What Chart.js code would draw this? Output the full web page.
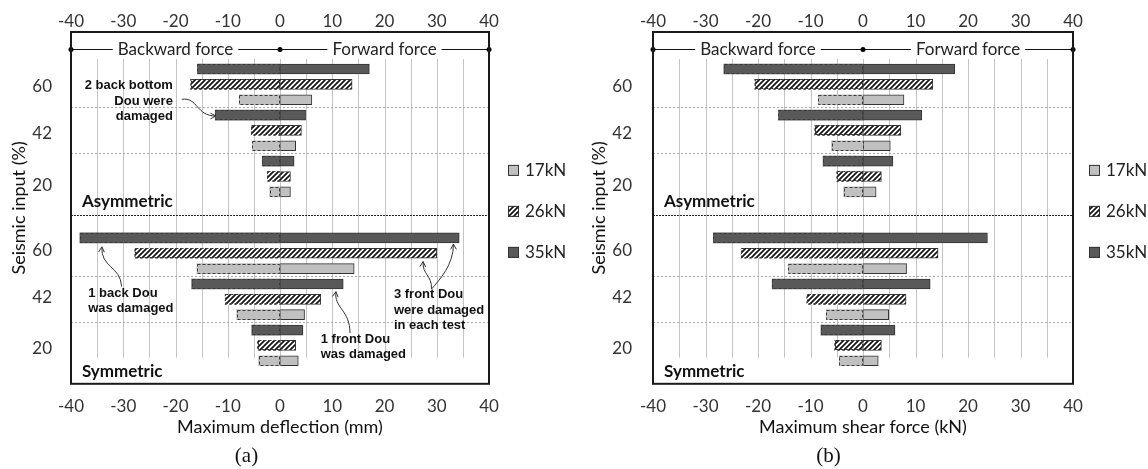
<!DOCTYPE html>
<html lang="en">
<head>
<meta charset="UTF-8">
<title>Maximum deflection and shear force</title>
<script src="https://cdn.jsdelivr.net/npm/chart.js@4"></script>
<style>
  html, body { margin: 0; padding: 0; background: #fff; }
  .row { display: flex; width: 1148px; height: 469px; }
  .panel { position: relative; width: 574px; height: 469px; }
</style>
</head>
<body>
<div class="row">
  <div class="panel"><canvas id="plotA"></canvas></div>
  <div class="panel"><canvas id="plotB"></canvas></div>
</div>
<script>
// series (weight) and seismic input levels: asymmetric 60/42/20 then symmetric 60/42/20
const series = ['17kN', '26kN', '35kN'];
const inputs = ['60', '42', '20', '60', '42', '20'];
const configs = ['Asymmetric', 'Symmetric'];
const inputRows = [1.15, 4.2, 7.6, 11.8, 14.9, 18.2];

// (a) maximum deflection (mm)
const defl17Fwd = [6.1, 3.0, 2.0, 14.2, 4.7, 3.5];
const defl17Bwd = [-7.8, -5.3, -2.0, -15.9, -8.3, -4.1];
const defl26Fwd = [13.8, 4.1, 2.0, 30.0, 7.8, 3.0];
const defl26Bwd = [-17.1, -5.5, -2.4, -27.8, -10.5, -4.3];
const defl35Fwd = [17.1, 4.9, 2.7, 34.3, 12.1, 4.4];
const defl35Bwd = [-15.8, -12.4, -3.4, -38.3, -16.9, -5.4];

// (b) maximum shear force (kN)
const shear17Fwd = [7.8, 5.2, 2.5, 8.3, 4.9, 2.9];
const shear17Bwd = [-8.5, -6.0, -3.7, -14.2, -7.0, -4.5];
const shear26Fwd = [13.3, 7.2, 3.5, 14.3, 8.2, 3.5];
const shear26Bwd = [-20.6, -9.2, -5.0, -23.2, -10.7, -5.4];
const shear35Fwd = [17.5, 11.2, 5.7, 23.7, 12.8, 6.1];
const shear35Bwd = [-26.5, -16.1, -7.6, -28.5, -17.3, -8.0];

// notes on panel (a), in axis units (x value, bar row)
const notesA = [
  { lines: ['2 back bottom', 'Dou were', 'damaged'], x: -20.5, row: 1.1, align: 'right' },
  { lines: ['1 back Dou', 'was damaged'], x: -36.7, row: 14.6, align: 'left' },
  { lines: ['1 front Dou', 'was damaged'], x: 7.8, row: 17.6, align: 'left' },
  { lines: ['3 front Dou', 'were damaged', 'in each test'], x: 21.8, row: 14.7, align: 'left' },
];
const arrowsA = [
  [[-18.8, 1.97], [-15.7, 1.82], [-16.1, 3.06], [-12.3, 3.06]],
  [[-30.3, 14.16], [-30.6, 12.8], [-34.3, 12.95], [-34.1, 11.58]],
  [[13.4, 17.2], [13.4, 15.68], [10.3, 15.57], [10.7, 14.5]],
  [[29.0, 14.33], [29.1, 13.4], [27.2, 13.4], [27.4, 12.54]],
  [[29.0, 14.33], [30.6, 13.7], [33.2, 12.75], [33.2, 11.4]],
];

const font = 'Lato, "Open Sans", sans-serif';
const grey = '#333';

function rowOf(g, s) {
  return g * 3 + (2 - s) + (g >= 3 ? 2 : 0);
}

function hatch(ctx) {
  const c = document.createElement('canvas');
  c.width = 5;
  c.height = 5;
  const g = c.getContext('2d');
  g.fillStyle = '#fff';
  g.fillRect(0, 0, 5, 5);
  g.strokeStyle = '#111';
  g.lineWidth = 1.7;
  g.beginPath();
  g.moveTo(-1, 6); g.lineTo(6, -1);
  g.moveTo(-1, 1); g.lineTo(1, -1);
  g.moveTo(4, 6); g.lineTo(6, 4);
  g.stroke();
  return ctx.createPattern(c, 'repeat');
}

const decor = {
  id: 'decor',
  beforeDatasetsDraw(chart, args, opts) {
    const { ctx, chartArea: a } = chart;
    const xs = chart.scales.x, ys = chart.scales.y;
    ctx.save();
    // vertical grid
    ctx.strokeStyle = '#c4c4c4';
    ctx.lineWidth = 1;
    for (let v = -35; v <= 35; v += 5) {
      const px = Math.round(xs.getPixelForValue(v)) + 0.5;
      ctx.beginPath();
      ctx.moveTo(px, ys.getPixelForValue(-0.65));
      ctx.lineTo(px, ys.getPixelForValue(18.8));
      ctx.stroke();
    }
    // group separators
    [2.5, 5.5, 13.5, 16.5, 9.5].forEach(r => {
      const py = Math.round(ys.getPixelForValue(r)) + 0.5;
      ctx.strokeStyle = r === 9.5 ? '#222' : '#a8a8a8';
      ctx.setLineDash(r === 9.5 ? [2, 1] : [2, 2]);
      ctx.beginPath();
      ctx.moveTo(a.left, py);
      ctx.lineTo(a.right, py);
      ctx.stroke();
    });
    ctx.setLineDash([]);
    // backward / forward force row
    const fy = Math.round(ys.getPixelForValue(-1.3)) + 0.5;
    ctx.strokeStyle = '#111';
    ctx.beginPath();
    ctx.moveTo(xs.getPixelForValue(-40), fy);
    ctx.lineTo(xs.getPixelForValue(40), fy);
    ctx.stroke();
    ctx.font = '17px ' + font;
    ctx.textAlign = 'center';
    ctx.textBaseline = 'middle';
    [['Backward force', -20], ['Forward force', 20]].forEach(([t, v]) => {
      const w = ctx.measureText(t).width + 10;
      const cx = xs.getPixelForValue(v);
      ctx.fillStyle = '#fff';
      ctx.fillRect(cx - w / 2, fy - 9, w, 18);
      ctx.fillStyle = '#222';
      ctx.fillText(t, cx, fy);
    });
    ctx.fillStyle = '#000';
    [-40, 0, 40].forEach(v => {
      ctx.beginPath();
      ctx.arc(xs.getPixelForValue(v), fy, 2.5, 0, Math.PI * 2);
      ctx.fill();
    });
    // configuration labels
    ctx.font = 'bold 17px ' + font;
    ctx.textAlign = 'left';
    ctx.fillStyle = '#111';
    ctx.fillText(configs[0], xs.getPixelForValue(-37.9), ys.getPixelForValue(8.65));
    ctx.fillText(configs[1], xs.getPixelForValue(-37.9), ys.getPixelForValue(19.7));
    ctx.restore();
  },
  afterDatasetsDraw(chart, args, opts) {
    const { ctx, chartArea: a } = chart;
    const xs = chart.scales.x, ys = chart.scales.y;
    ctx.save();
    // dashed outline on backward bars
    ctx.strokeStyle = '#3a3a3a';
    ctx.lineWidth = 1;
    ctx.setLineDash([3, 2]);
    chart.data.datasets.forEach((ds, i) => {
      if (!ds.dashed) return;
      chart.getDatasetMeta(i).data.forEach(bar => {
        const { x, y, base, height } = bar.getProps(['x', 'y', 'base', 'height'], true);
        const l = Math.min(x, base), r = Math.max(x, base);
        ctx.strokeRect(Math.round(l) + 0.5, Math.round(y - height / 2) + 0.5, Math.round(r - l) - 1, height - 1);
      });
    });
    ctx.setLineDash([]);
    // frame
    ctx.strokeStyle = '#1a1a1a';
    ctx.lineWidth = 2;
    ctx.strokeRect(a.left, a.top, a.right - a.left, a.bottom - a.top);
    // notes and arrows
    ctx.fillStyle = '#111';
    ctx.font = 'bold 13px "Liberation Sans", Arial, sans-serif';
    ctx.textBaseline = 'middle';
    (opts.notes || []).forEach(n => {
      ctx.textAlign = n.align;
      n.lines.forEach((t, k) => {
        ctx.fillText(t, xs.getPixelForValue(n.x), ys.getPixelForValue(n.row) + k * 15.5);
      });
    });
    ctx.strokeStyle = '#333';
    ctx.lineWidth = 1;
    (opts.arrows || []).forEach(pts => {
      const p = pts.map(([v, r]) => [xs.getPixelForValue(v), ys.getPixelForValue(r)]);
      ctx.beginPath();
      ctx.moveTo(p[0][0], p[0][1]);
      ctx.bezierCurveTo(p[1][0], p[1][1], p[2][0], p[2][1], p[3][0], p[3][1]);
      ctx.stroke();
      const ang = Math.atan2(p[3][1] - p[2][1], p[3][0] - p[2][0]);
      ctx.beginPath();
      ctx.moveTo(p[3][0] - 6 * Math.cos(ang - 0.5), p[3][1] - 6 * Math.sin(ang - 0.5));
      ctx.lineTo(p[3][0], p[3][1]);
      ctx.lineTo(p[3][0] - 6 * Math.cos(ang + 0.5), p[3][1] - 6 * Math.sin(ang + 0.5));
      ctx.stroke();
    });
    // legend
    const cy = (a.top + a.bottom) / 2 + 3;
    ctx.font = '17px ' + font;
    ctx.textAlign = 'left';
    series.forEach((name, s) => {
      const ly = cy + (s - 1) * 41;
      const lx = a.right + opts.legendGap;
      ctx.fillStyle = opts.fills[s];
      ctx.fillRect(lx, ly - 5, 11, 11);
      ctx.strokeStyle = '#333';
      ctx.strokeRect(lx + 0.5, ly - 4.5, 10, 10);
      ctx.fillStyle = '#222';
      ctx.fillText(name, lx + 17, ly + 1);
    });
    ctx.restore();
  }
};

function makeChart(id, fwd, bwd, xTitle, caption, pad, yWidth, tickPad, notes, arrows) {
  const canvas = document.getElementById(id);
  const ctx = canvas.getContext('2d');
  const fills = ['#c0c0c0', hatch(ctx), '#595959'];
  const datasets = [];
  series.forEach((name, s) => {
    datasets.push({
      label: name + ' backward',
      data: bwd[s].map((v, g) => ({ x: v, y: rowOf(g, s) })),
      backgroundColor: fills[s],
      borderWidth: 0,
      dashed: true,
    });
    datasets.push({
      label: name,
      data: fwd[s].map((v, g) => ({ x: v, y: rowOf(g, s) })),
      backgroundColor: fills[s],
      borderColor: '#333',
      borderWidth: 1,
      borderSkipped: false,
    });
  });

  const tickFont = { family: font, size: 17 };
  return new Chart(canvas, {
    type: 'bar',
    data: { datasets },
    plugins: [decor],
    options: {
      indexAxis: 'y',
      responsive: true,
      maintainAspectRatio: false,
      animation: false,
      barThickness: 10,
      grouped: false,
      layout: { padding: { left: pad[0], right: pad[1], top: 0, bottom: 0 } },
      plugins: {
        legend: { display: false },
        tooltip: { enabled: false },
        title: {
          display: true,
          text: caption,
          position: 'bottom',
          color: '#111',
          font: { family: '"Liberation Serif", "DejaVu Serif", serif', size: 21, weight: 'normal' },
          padding: { top: 5, bottom: 0 },
        },
        decor: { fills, legendGap: pad[2], notes, arrows },
      },
      scales: {
        x: {
          type: 'linear',
          position: 'bottom',
          min: -40,
          max: 40,
          grid: { display: false },
          border: { display: false },
          ticks: { stepSize: 10, padding: 5, color: grey, font: tickFont },
          title: {
            display: true,
            text: xTitle,
            color: '#111',
            font: { family: font, size: 18 },
            padding: { top: 0, bottom: 1 },
          },
          afterFit: s => { s.height = 55; },
        },
        x2: {
          type: 'linear',
          position: 'top',
          min: -40,
          max: 40,
          grid: { display: false },
          border: { display: false },
          ticks: { stepSize: 10, padding: -8, color: grey, font: tickFont },
          afterFit: s => { s.height = 32; },
        },
        y: {
          type: 'linear',
          min: -2.41,
          max: 20.5,
          reverse: true,
          offset: false,
          grid: { display: false },
          border: { display: false },
          afterBuildTicks: s => { s.ticks = inputRows.map(v => ({ value: v })); },
          ticks: { autoSkip: false, padding: tickPad, color: grey, font: tickFont, callback: (v, i) => inputs[i] },
          title: {
            display: true,
            text: 'Seismic input (%)',
            color: '#111',
            font: { family: font, size: 18 },
            padding: { top: 4, bottom: 0 },
          },
          afterFit: s => { s.width = yWidth; },
        },
      },
    },
  });
}

makeChart('plotA',
  [defl17Fwd, defl26Fwd, defl35Fwd], [defl17Bwd, defl26Bwd, defl35Bwd],
  'Maximum deflection (mm)', '(a)', [4, 85, 19], 67, 11, notesA, arrowsA);
makeChart('plotB',
  [shear17Fwd, shear26Fwd, shear35Fwd], [shear17Bwd, shear26Bwd, shear35Bwd],
  'Maximum shear force (kN)', '(b)', [10, 75, 16], 69, 13, [], []);
</script>
</body>
</html>
